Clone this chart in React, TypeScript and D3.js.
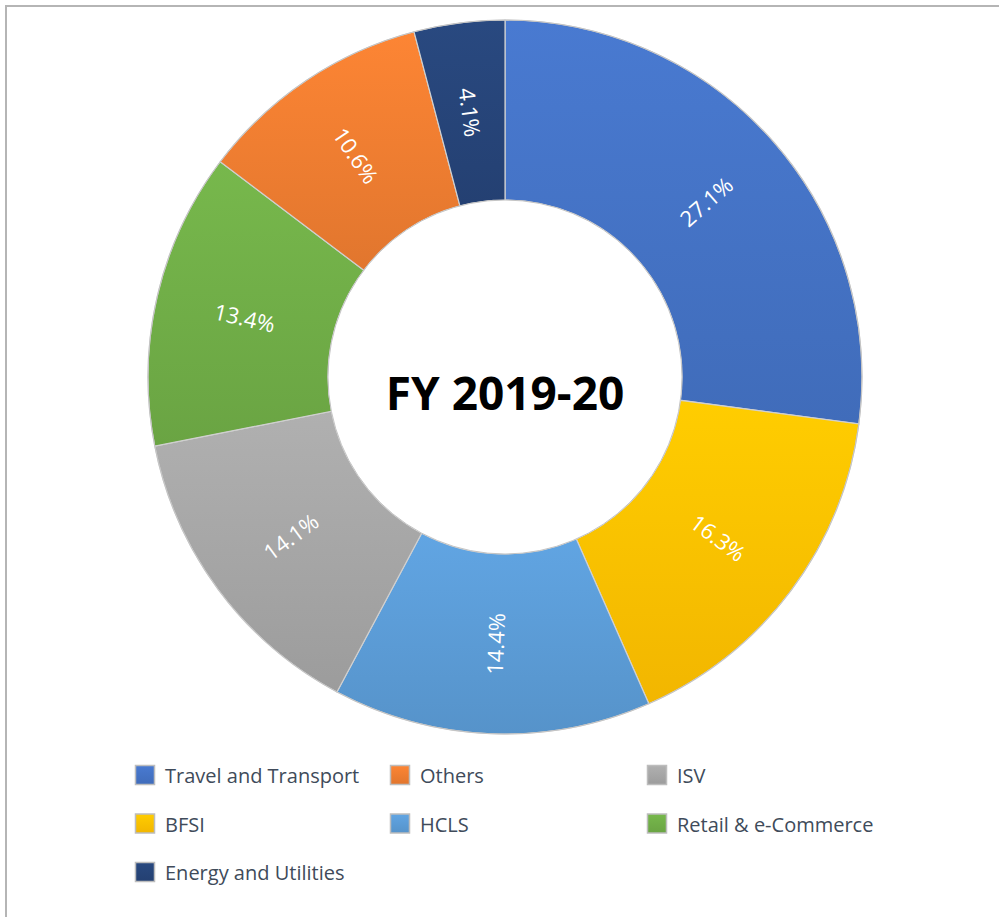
import React from "react";
import * as d3 from "d3";

const categories = [
  "Travel and Transport",
  "BFSI",
  "HCLS",
  "ISV",
  "Retail & e-Commerce",
  "Others",
  "Energy and Utilities",
];
const shares = [27.1, 16.3, 14.4, 14.1, 13.4, 10.6, 4.1];
const baseColors = ["#4472C4", "#FFC000", "#5B9BD5", "#A5A5A5", "#70AD47", "#ED7D31", "#264478"];
// legend reads row by row, three per row
const legendOrder = [
  "Travel and Transport",
  "Others",
  "ISV",
  "BFSI",
  "HCLS",
  "Retail & e-Commerce",
  "Energy and Utilities",
];
const title = "FY 2019-20";

const width = 999;
const height = 917;
const cx = 505;
const cy = 377;
const outerR = 357;
const innerR = 177;

export default function App() {
  const color = d3.scaleOrdinal<string, string>().domain(categories).range(baseColors);
  const pie = d3.pie<number>().sort(null).value((d) => d);
  const arcs = pie(shares);
  const arc = d3.arc<d3.PieArcDatum<number>>().innerRadius(innerR).outerRadius(outerR);

  const legendCols = [135, 390, 647];
  const legendRowY = (r: number) => 765 + r * 48.5;

  return (
    <div style={{ position: "absolute", left: 0, top: 0 }}>
      <svg width={width} height={height} style={{ display: "block", background: "#fff" }}>
        <defs>
          {categories.map((c, i) => {
            const base = d3.color(color(c))!;
            return (
              <linearGradient key={c} id={`g${i}`} x1="0" y1="0" x2="0" y2="1">
                <stop offset="0%" stopColor={base.brighter(0.18).formatHex()} />
                <stop offset="100%" stopColor={base.darker(0.15).formatHex()} />
              </linearGradient>
            );
          })}
        </defs>

        <rect x={6} y={6} width={width + 20} height={height + 20} fill="none" stroke="#b5b5b5" strokeWidth={2} />

        <g transform={`translate(${cx},${cy})`}>
          {arcs.map((a, i) => (
            <path key={categories[i]} d={arc(a)!} fill={`url(#g${i})`} stroke="#d0d0d0" strokeWidth={1.2} />
          ))}
          <circle r={outerR} fill="none" stroke="#c4c4c4" strokeWidth={1} />
          <circle r={innerR} fill="#fff" stroke="#c4c4c4" strokeWidth={1} />
          {arcs.map((a, i) => {
            const [x, y] = arc.centroid(a);
            const mid = ((a.startAngle + a.endAngle) / 2) * (180 / Math.PI);
            const rot = mid < 180 ? mid - 90 : mid - 270;
            return (
              <text
                key={categories[i]}
                transform={`translate(${x},${y}) rotate(${rot})`}
                textAnchor="middle"
                dominantBaseline="central"
                fill="#fff"
                fontFamily="'Open Sans', 'Noto Sans', sans-serif"
                fontSize={22}
              >
                {`${shares[i].toFixed(1)}%`}
              </text>
            );
          })}
          <text
            y={33}
            textAnchor="middle"
            fontFamily="'Open Sans', 'Noto Sans', sans-serif"
            fontWeight="bold"
            fontSize={46}
            fill="#000"
          >
            {title}
          </text>
        </g>

        <g fontFamily="'Open Sans', 'Noto Sans', sans-serif" fontSize={20} fill="#404b5a">
          {legendOrder.map((name, k) => {
            const col = k % 3;
            const row = Math.floor(k / 3);
            const x = legendCols[col];
            const y = legendRowY(row);
            const i = categories.indexOf(name);
            return (
              <g key={name} transform={`translate(${x},${y})`}>
                <rect x={0.5} y={0.5} width={19} height={19} fill={`url(#g${i})`} stroke="#bdbdbd" strokeWidth={1.5} />
                <text x={30} y={18}>
                  {name}
                </text>
              </g>
            );
          })}
        </g>
      </svg>
    </div>
  );
}
